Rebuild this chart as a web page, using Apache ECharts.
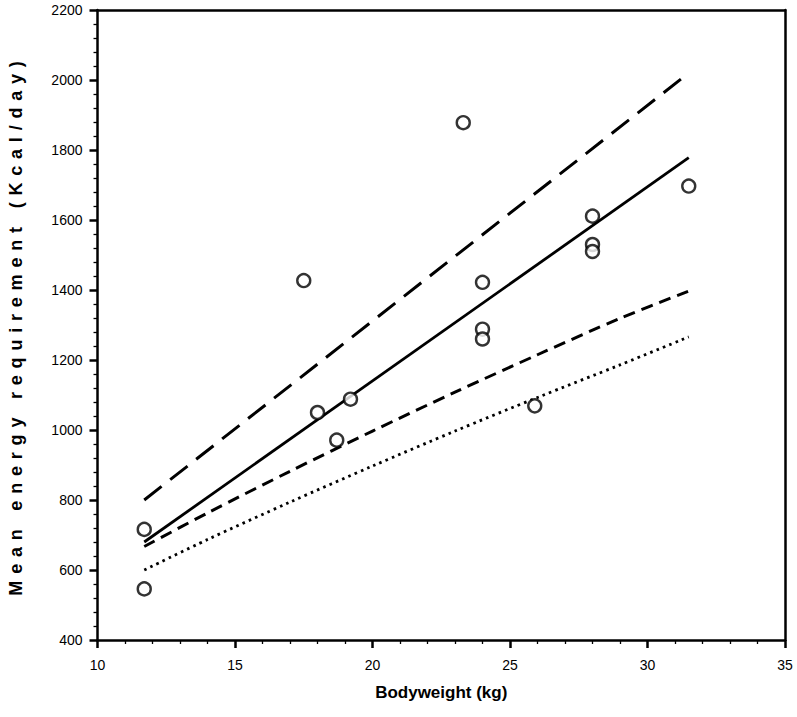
<!DOCTYPE html>
<html>
<head>
<meta charset="utf-8">
<script src="https://cdn.jsdelivr.net/npm/echarts@6/dist/echarts.min.js"></script>
<style>html,body{margin:0;padding:0;background:#fff}#c{width:797px;height:717px}</style>
</head>
<body>
<div id="c"></div>
<script>
// Observed data points: bodyweight (kg) and mean energy requirement (kcal/day)
const pointWeights = [11.7, 11.7, 17.5, 18.0, 18.7, 19.2, 23.3, 24.0, 24.0, 24.0, 25.9, 28.0, 28.0, 28.0, 31.5];
const pointEnergy  = [716, 546, 1427, 1050, 971, 1088, 1878, 1422, 1288, 1260, 1069, 1611, 1530, 1510, 1697];

// Reference lines
const lineX        = [11.7, 31.5];
const solidLine    = [680, 1778];
const longDashLine = [800, 2020];
const curveX       = [11.7, 14, 17, 20, 23, 26, 29, 31.5];
const shortDashCurve = [667, 763, 882, 997, 1108, 1215, 1319, 1397];
const dottedCurve    = [600, 687, 794, 897, 997, 1093, 1186, 1266];

const xTicks = [10, 15, 20, 25, 30, 35];
const yTicks = [400, 600, 800, 1000, 1200, 1400, 1600, 1800, 2000, 2200];
const yTitle = 'Mean energy requirement (Kcal/day)';
const xTitle = 'Bodyweight (kg)';

const font = '"Liberation Sans", Arial, sans-serif';
const pair = (xs, ys) => xs.map((x, i) => [x, ys[i]]);

const chart = echarts.init(document.getElementById('c'), null, {renderer: 'svg'});
chart.setOption({
  animation: false,
  backgroundColor: '#fff',
  grid: {left: 97.5, right: 12, top: 10, bottom: 77, containLabel: false, outerBoundsMode: 'none'},
  xAxis: [{
    type: 'value', min: xTicks[0], max: xTicks[xTicks.length - 1], interval: 5,
    name: xTitle, nameLocation: 'middle', nameGap: 44,
    nameTextStyle: {fontFamily: font, fontWeight: 'bold', fontSize: 17, color: '#000'},
    axisLine: {show: true, lineStyle: {color: '#000', width: 2.5}},
    axisTick: {show: true, inside: false, length: 8, lineStyle: {color: '#000', width: 2.5}},
    minorTick: {show: true, splitNumber: 5, length: 4, lineStyle: {color: '#000', width: 1.3}},
    splitLine: {show: false},
    axisLabel: {fontFamily: font, fontSize: 14, color: '#000', margin: 18, formatter: v => String(v)}
  }, {
    type: 'value', position: 'top', min: 10, max: 35,
    axisLine: {show: true, onZero: false, lineStyle: {color: '#000', width: 2.5}},
    axisTick: {show: false}, axisLabel: {show: false}, splitLine: {show: false}
  }],
  yAxis: [{
    type: 'value', min: yTicks[0], max: yTicks[yTicks.length - 1], interval: 200,
    name: yTitle, nameLocation: 'middle', nameGap: 73,
    nameTextStyle: {fontFamily: font, fontWeight: 'bold', fontSize: 18, color: '#000'},
    axisLine: {show: true, lineStyle: {color: '#000', width: 2.5}},
    axisTick: {show: true, inside: false, length: 8, lineStyle: {color: '#000', width: 2.5}},
    minorTick: {show: true, splitNumber: 5, length: 4, lineStyle: {color: '#000', width: 1.3}},
    splitLine: {show: false},
    axisLabel: {fontFamily: font, fontSize: 14, color: '#000', margin: 15, formatter: v => String(v)}
  }, {
    type: 'value', position: 'right', min: 400, max: 2200,
    axisLine: {show: true, onZero: false, lineStyle: {color: '#000', width: 2.5}},
    axisTick: {show: false}, axisLabel: {show: false}, splitLine: {show: false}
  }],
  series: [
    {type: 'line', data: pair(lineX, longDashLine), symbol: 'none',
     lineStyle: {color: '#000', width: 3, type: [22, 11]}},
    {type: 'line', data: pair(lineX, solidLine), symbol: 'none',
     lineStyle: {color: '#000', width: 2.8, type: 'solid'}},
    {type: 'line', data: pair(curveX, shortDashCurve), symbol: 'none', smooth: 0.3,
     lineStyle: {color: '#000', width: 3, type: [12, 7]}},
    {type: 'line', data: pair(curveX, dottedCurve), symbol: 'none', smooth: 0.3,
     lineStyle: {color: '#000', width: 2.8, type: [2.6, 4.2]}},
    {type: 'scatter', data: pair(pointWeights, pointEnergy), symbol: 'circle', symbolSize: 13,
     itemStyle: {color: '#fff', borderColor: '#000', borderWidth: 2.4}, z: 5}
  ]
});
// widen the letter spacing of the vertical axis title, as in the original figure
document.querySelectorAll('#c svg text').forEach(t => {
  if (t.textContent === yTitle) t.setAttribute('letter-spacing', '6.8px');
});
</script>
</body>
</html>
